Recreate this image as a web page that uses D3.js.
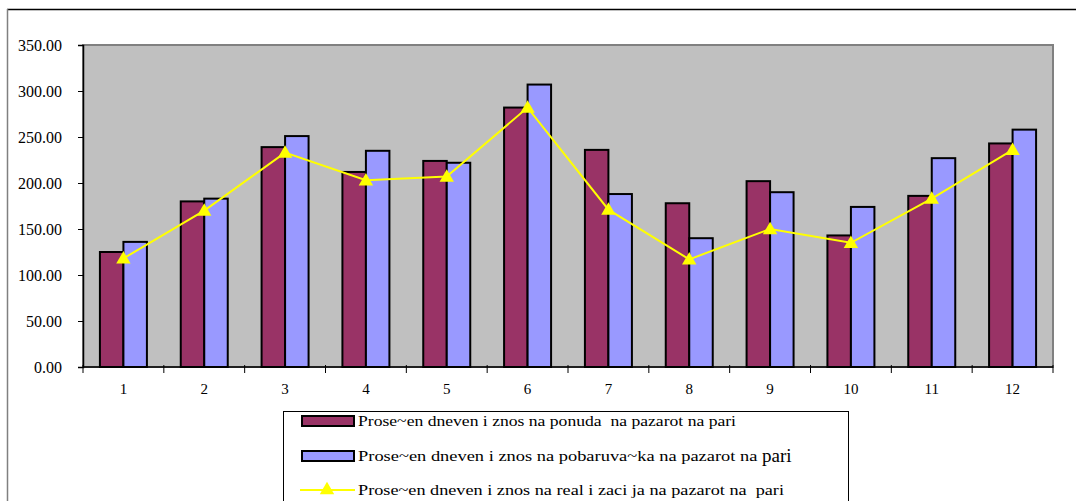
<!DOCTYPE html>
<html>
<head>
<meta charset="utf-8">
<script src="https://cdn.jsdelivr.net/npm/d3@7"></script>
<style>
  html, body { margin: 0; padding: 0; background: #fff; }
  svg { display: block; }
  svg text { font-family: "Liberation Serif", "Times New Roman", "DejaVu Serif", serif !important; fill: #000; }
</style>
</head>
<body>
<div id="chart"></div>
<script>
const categories = ['1', '2', '3', '4', '5', '6', '7', '8', '9', '10', '11', '12'];
const ponuda = [125, 180, 239, 212, 224, 282, 236, 178, 202, 143, 186, 243];
const pobaruvacka = [136, 183, 251, 235, 222, 307, 188, 140, 190, 174, 227, 258];
const realizacija = [118, 170, 233, 203, 207, 282, 171, 117, 150, 135, 183, 236];
const yTicks = [0, 50, 100, 150, 200, 250, 300, 350];
const legendLabels = [
  'Prose~en dneven i znos na ponuda  na pazarot na pari',
  'Prose~en dneven i znos na pobaruva~ka na pazarot na ',
  'Prose~en dneven i znos na real i zaci ja na pazarot na  pari'
];

const W = 1076, H = 501;
const plot = { left: 83, right: 1053, top: 45, bottom: 367 };
const serif = '"Liberation Serif", "Times New Roman", serif';

const svg = d3.select('#chart').append('svg')
  .attr('width', W).attr('height', H)
  .attr('font-family', serif);

// outer chart frame (right and bottom run off the picture)
svg.append('line').attr('x1', 7).attr('x2', W).attr('y1', 9.5).attr('y2', 9.5)
  .attr('stroke', '#000').attr('stroke-width', 1.5);
svg.append('line').attr('x1', 7.5).attr('x2', 7.5).attr('y1', 9).attr('y2', H)
  .attr('stroke', '#808080').attr('stroke-width', 1.5);

const x0 = d3.scaleBand().domain(categories).range([plot.left, plot.right]);
const x1 = d3.scaleBand().domain(['ponuda', 'pobaruvacka'])
  .range([0, x0.bandwidth()]).paddingInner(0).paddingOuter(0.72);
const y = d3.scaleLinear().domain([0, 350]).range([plot.bottom, plot.top]);

// plot area
svg.append('rect')
  .attr('x', plot.left).attr('y', plot.top)
  .attr('width', plot.right - plot.left).attr('height', plot.bottom - plot.top)
  .attr('fill', '#c0c0c0').attr('stroke', '#808080').attr('stroke-width', 2);

// bars
const series = [
  { key: 'ponuda', values: ponuda, color: '#993366' },
  { key: 'pobaruvacka', values: pobaruvacka, color: '#9999ff' }
];
series.forEach((s) => {
  svg.append('g').selectAll('rect')
    .data(s.values)
    .join('rect')
    .attr('x', (d, i) => x0(categories[i]) + x1(s.key))
    .attr('y', (d) => y(d))
    .attr('width', x1.bandwidth())
    .attr('height', (d) => y(0) - y(d))
    .attr('fill', s.color)
    .attr('stroke', '#000')
    .attr('stroke-width', 2);
});

// y axis
const yAxis = svg.append('g')
  .attr('transform', `translate(${plot.left},0)`)
  .call(d3.axisLeft(y).tickValues(yTicks).tickFormat(d3.format('.2f')).tickSize(5).tickPadding(16));
yAxis.attr('font-family', serif);
yAxis.select('.domain').attr('stroke', '#000').attr('stroke-width', 1.5);
yAxis.selectAll('.tick line').attr('stroke', '#000');
yAxis.selectAll('text').attr('font-size', 16);

// x axis: ticks sit on the category boundaries
const xAxis = svg.append('g').attr('transform', `translate(0,${plot.bottom})`);
xAxis.append('line')
  .attr('x1', plot.left).attr('x2', plot.right)
  .attr('stroke', '#000').attr('stroke-width', 1.5);
const bounds = categories.map((c) => x0(c)).concat([plot.right]);
xAxis.selectAll('line.tk').data(bounds).join('line')
  .attr('class', 'tk')
  .attr('x1', (d) => d).attr('x2', (d) => d)
  .attr('y1', -2).attr('y2', 6)
  .attr('stroke', '#000');
xAxis.selectAll('text').data(categories).join('text')
  .attr('x', (d) => x0(d) + x0.bandwidth() / 2)
  .attr('y', 27)
  .attr('text-anchor', 'middle')
  .attr('font-size', 15)
  .text((d) => d);

// line series
const cx = (i) => x0(categories[i]) + x0.bandwidth() / 2;
svg.append('path')
  .datum(realizacija)
  .attr('d', d3.line().x((d, i) => cx(i)).y((d) => y(d)))
  .attr('fill', 'none').attr('stroke', '#ffff00').attr('stroke-width', 2);
const tri = d3.symbol().type(d3.symbolTriangle).size(90);
svg.append('g').selectAll('path')
  .data(realizacija)
  .join('path')
  .attr('transform', (d, i) => `translate(${cx(i)},${y(d) + 1})`)
  .attr('d', tri)
  .attr('fill', '#ffff00');

// legend
const lg = svg.append('g');
lg.append('rect')
  .attr('x', 283.5).attr('y', 411.5).attr('width', 565).attr('height', 100)
  .attr('fill', '#fff').attr('stroke', '#000').attr('stroke-width', 1);
const rowY = [421, 456, 490];
series.forEach((s, i) => {
  lg.append('rect')
    .attr('x', 302).attr('y', rowY[i] - 5).attr('width', 52).attr('height', 10)
    .attr('fill', s.color).attr('stroke', '#000').attr('stroke-width', 2);
});
lg.append('line')
  .attr('x1', 300).attr('x2', 355).attr('y1', rowY[2]).attr('y2', rowY[2])
  .attr('stroke', '#ffff00').attr('stroke-width', 2);
lg.append('path')
  .attr('transform', `translate(327,${rowY[2]})`)
  .attr('d', tri).attr('fill', '#ffff00');
const legendWidths = [378, 404, 426];
legendLabels.forEach((t, i) => {
  lg.append('text')
    .attr('x', 358).attr('y', rowY[i] + 5)
    .attr('font-size', 15)
    .attr('xml:space', 'preserve')
    .attr('textLength', legendWidths[i])
    .attr('lengthAdjust', 'spacingAndGlyphs')
    .text(t);
  if (i === 1) {
    lg.append('text')
      .attr('x', 358 + legendWidths[1]).attr('y', rowY[i] + 6)
      .attr('font-size', 19)
      .text('pari');
  }
});
</script>
</body>
</html>
